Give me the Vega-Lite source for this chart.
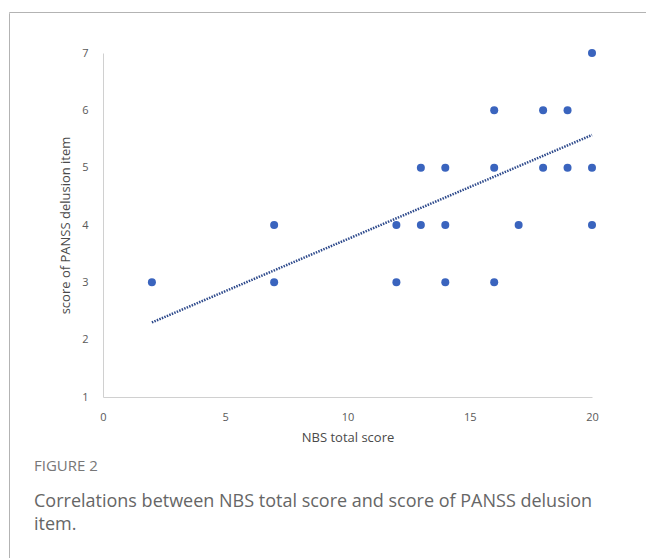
{
  "$schema": "https://vega.github.io/schema/vega-lite/v6.json",
  "background": "white",
  "padding": {"left": 8, "top": 11, "right": 0, "bottom": 0},
  "config": {"view": {"stroke": null}, "font": "Open Sans"},
  "bounds": "flush",
  "spacing": 0,
  "vconcat": [
    {"width": 638, "height": 0.001, "view": {"stroke": "#b3b3b3", "strokeWidth": 1}, "data": {"values": []}, "mark": "point", "encoding": {}},
    {
      "bounds": "flush",
      "spacing": 93,
      "hconcat": [
        {"width": 0.001, "height": 547, "view": {"stroke": "#b3b3b3", "strokeWidth": 1}, "data": {"values": []}, "mark": "point", "encoding": {}},
        {
          "bounds": "flush",
          "spacing": 39,
          "vconcat": [
            {"width": 0.001, "height": 0.001, "data": {"values": []}, "mark": "point", "encoding": {}},
            {
              "width": 489,
              "height": 344,
              "title": {
                "text": "FIGURE 2",
                "subtitle": ["Correlations between NBS total score and score of PANSS delusion", "item."],
                "orient": "bottom",
                "anchor": "start",
                "frame": "group",
                "dx": -69,
                "offset": 15,
                "font": "Open Sans",
                "fontSize": 15,
                "fontWeight": "normal",
                "color": "#777777",
                "subtitleFont": "Open Sans",
                "subtitleFontSize": 18,
                "subtitleColor": "#666666",
                "subtitleLineHeight": 23,
                "subtitlePadding": 19
              },
              "layer": [
                {
                  "data": {"values": [{"x": 2, "y": 2.3}, {"x": 20, "y": 5.57}]},
                  "mark": {"type": "line", "color": "#2E4A8C", "strokeWidth": 2.5, "strokeDash": [1.5, 1.2]},
                  "encoding": {
                    "x": {"field": "x", "type": "quantitative"},
                    "y": {"field": "y", "type": "quantitative"}
                  }
                },
                {
                  "data": {"values": [
                    {"x": 2, "y": 3}, {"x": 7, "y": 4}, {"x": 7, "y": 3},
                    {"x": 12, "y": 4}, {"x": 12, "y": 3}, {"x": 13, "y": 5}, {"x": 13, "y": 4},
                    {"x": 14, "y": 5}, {"x": 14, "y": 4}, {"x": 14, "y": 3},
                    {"x": 16, "y": 6}, {"x": 16, "y": 5}, {"x": 16, "y": 3},
                    {"x": 17, "y": 4}, {"x": 18, "y": 6}, {"x": 18, "y": 5},
                    {"x": 19, "y": 6}, {"x": 19, "y": 5},
                    {"x": 20, "y": 7}, {"x": 20, "y": 5}, {"x": 20, "y": 4}
                  ]},
                  "mark": {"type": "circle", "size": 64, "color": "#3A64BE", "opacity": 1},
                  "encoding": {
                    "x": {
                      "field": "x", "type": "quantitative",
                      "scale": {"domain": [0, 20], "nice": false},
                      "axis": {"values": [0, 5, 10, 15, 20], "format": "d", "title": "NBS total score", "grid": false, "ticks": false, "labelFlush": false,
                        "domainColor": "#d0d0d0", "labelColor": "#595959", "labelFontSize": 11, "labelPadding": 14,
                        "titleFontSize": 13, "titleFontWeight": "normal", "titleColor": "#4a4a4a", "titlePadding": 9}
                    },
                    "y": {
                      "field": "y", "type": "quantitative",
                      "scale": {"domain": [1, 7], "nice": false, "zero": false},
                      "axis": {"values": [1, 2, 3, 4, 5, 6, 7], "format": "d", "title": "score of PANSS delusion item", "grid": false, "ticks": false,
                        "domainColor": "#d0d0d0", "labelColor": "#595959", "labelFontSize": 11, "labelPadding": 15,
                        "titleFontSize": 13, "titleFontWeight": "normal", "titleColor": "#4a4a4a", "titlePadding": 9}
                    }
                  }
                }
              ]
            }
          ]
        }
      ]
    }
  ]
}
